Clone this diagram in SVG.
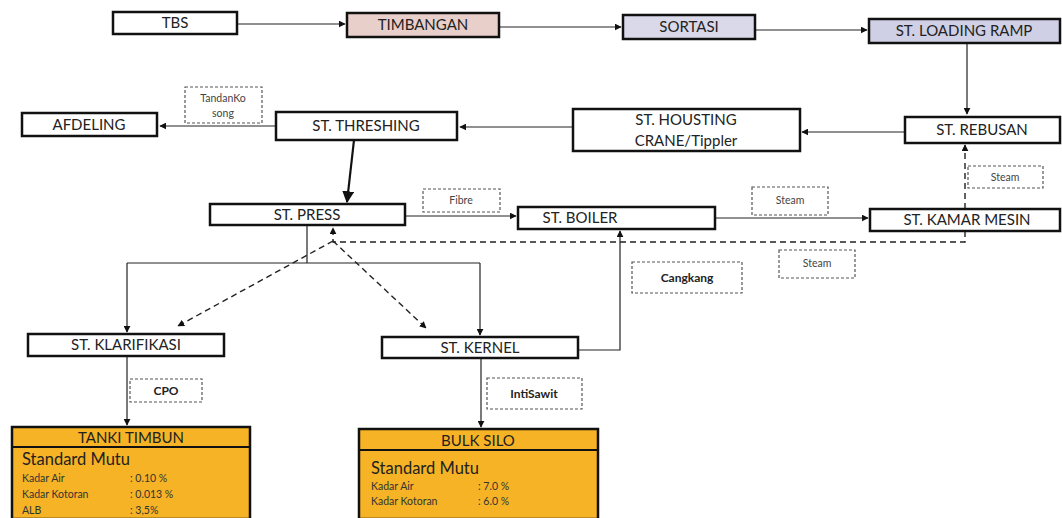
<svg xmlns="http://www.w3.org/2000/svg" width="1062" height="518" viewBox="0 0 1062 518">
<style>
.n{fill:#fff;stroke:#111;stroke-width:2.5}
.t{font-family:Lato,"Open Sans",sans-serif;font-size:15px;fill:#222;text-anchor:middle}
.lb{fill:#fff;stroke:#555;stroke-width:1.2;stroke-dasharray:3,2}
.lt{font-family:Lato,"Open Sans",sans-serif;font-size:10.5px;fill:#444;text-anchor:middle}
.bt{font-family:Lato,"Open Sans",sans-serif;font-size:12px;font-weight:bold;fill:#222;text-anchor:middle}
.c{fill:none;stroke:#222;stroke-width:1.2}
.d{fill:none;stroke:#222;stroke-width:1.4;stroke-dasharray:6,4}
.tank{fill:#f6b325;stroke:#111;stroke-width:2.5}
.sm{font-family:Lato,"Open Sans",sans-serif;font-size:10.5px;fill:#333}
.sh{font-family:Lato,"Open Sans",sans-serif;font-size:16.5px;fill:#222}
</style>
<defs>
<marker id="a" viewBox="0 0 10 10" refX="9" refY="5" markerWidth="7" markerHeight="7" orient="auto" markerUnits="userSpaceOnUse"><path d="M0,0L10,5L0,10z" fill="#111"/></marker>
<marker id="ab" viewBox="0 0 10 10" refX="9" refY="5" markerWidth="12" markerHeight="12" orient="auto" markerUnits="userSpaceOnUse"><path d="M0,0L10,5L0,10z" fill="#111"/></marker>
</defs>
<g id="connectors">
<path class="c" d="M237,24H345" marker-end="url(#a)"/>
<path class="c" d="M499,27H621" marker-end="url(#a)"/>
<path class="c" d="M755,30H867" marker-end="url(#a)"/>
<path class="c" d="M967,43V114" marker-end="url(#a)"/>
<path class="c" d="M905,132H802" marker-end="url(#a)"/>
<path class="c" d="M573,127H460" marker-end="url(#a)"/>
<path class="c" d="M276,126H160" marker-end="url(#a)"/>
<path d="M354,140L347,202" fill="none" stroke="#111" stroke-width="2.2" marker-end="url(#ab)"/>
<path class="c" d="M405,216H516" marker-end="url(#a)"/>
<path class="c" d="M715,218H868" marker-end="url(#a)"/>
<path class="d" d="M965,209V145" marker-end="url(#a)" stroke-width="1.2" stroke-dasharray="3,3"/>
<path class="d" d="M965,231V242H333V228" marker-end="url(#a)"/>
<path class="d" d="M333,241L178,326" marker-end="url(#a)"/>
<path class="d" d="M333,241L426,328" marker-end="url(#a)"/>
<path class="c" d="M307,225V263"/>
<path class="c" d="M127,263H480"/>
<path class="c" d="M127,263V332" marker-end="url(#a)"/>
<path class="c" d="M480,263V335" marker-end="url(#a)"/>
<path class="c" d="M578,350H620V231" marker-end="url(#a)"/>
<path class="c" d="M127,356V425" marker-end="url(#a)"/>
<path class="c" d="M481,359V427" marker-end="url(#a)"/>
</g>
<g id="tbs"><rect class="n" x="113" y="12" width="124" height="22"/><text class="t" x="175" y="28">TBS</text></g>
<g id="timbangan"><rect class="n" x="347" y="13" width="152" height="24" style="fill:#e9cfca"/><text class="t" x="423" y="30">TIMBANGAN</text></g>
<g id="sortasi"><rect class="n" x="623" y="15" width="132" height="24" style="fill:#dad9ea"/><text class="t" x="689" y="32">SORTASI</text></g>
<g id="loading"><rect class="n" x="869" y="19" width="191" height="24" style="fill:#cfcfe5"/><text class="t" x="964" y="36">ST. LOADING RAMP</text></g>
<g id="rebusan"><rect class="n" x="905" y="117" width="155" height="26"/><text class="t" x="982" y="135">ST. REBUSAN</text></g>
<g id="housting"><rect class="n" x="573" y="109" width="227" height="42"/><text class="t" x="686" y="125">ST. HOUSTING</text><text class="t" x="686" y="146">CRANE/Tippler</text></g>
<g id="threshing"><rect class="n" x="276" y="112" width="181" height="28"/><text class="t" x="366" y="131">ST. THRESHING</text></g>
<g id="afdeling"><rect class="n" x="22" y="113" width="135" height="23"/><text class="t" x="89" y="130">AFDELING</text></g>
<g id="tandankosong"><rect class="lb" x="185" y="87" width="77" height="36"/><text class="lt" x="223" y="102">TandanKo</text><text class="lt" x="223" y="117">song</text></g>
<g id="press"><rect class="n" x="210" y="204" width="195" height="21"/><text class="t" x="307" y="220">ST.  PRESS</text></g>
<g id="fibre"><rect class="lb" x="423" y="189" width="77" height="23"/><text class="lt" x="461" y="204">Fibre</text></g>
<g id="boiler"><rect class="n" x="518" y="207" width="197" height="22"/><text class="t" x="580" y="223">ST.  BOILER</text></g>
<g id="steam1"><rect class="lb" x="752" y="187" width="76" height="28"/><text class="lt" x="790" y="204">Steam</text></g>
<g id="kamar"><rect class="n" x="870" y="209" width="190" height="22"/><text class="t" x="967" y="225">ST.  KAMAR MESIN</text></g>
<g id="steam2"><rect class="lb" x="968" y="166" width="75" height="22"/><text class="lt" x="1005" y="181">Steam</text></g>
<g id="steam3"><rect class="lb" x="779" y="250" width="76" height="28"/><text class="lt" x="817" y="267">Steam</text></g>
<g id="cangkang"><rect class="lb" x="632" y="262" width="110" height="31"/><text class="bt" x="687" y="282">Cangkang</text></g>
<g id="klarifikasi"><rect class="n" x="28" y="334" width="196" height="22"/><text class="t" x="126" y="350">ST.  KLARIFIKASI</text></g>
<g id="kernel"><rect class="n" x="382" y="337" width="196" height="21"/><text class="t" x="480" y="353">ST.  KERNEL</text></g>
<g id="cpo"><rect class="lb" x="130" y="379" width="72" height="23"/><text class="bt" x="166" y="395">CPO</text></g>
<g id="intisawit"><rect class="lb" x="487" y="378" width="95" height="31"/><text class="bt" x="534" y="398">IntiSawit</text></g>
<g id="tanki">
<rect class="tank" x="12" y="427" width="238" height="92"/>
<line x1="12" y1="447" x2="250" y2="447" stroke="#111" stroke-width="2"/>
<text class="t" x="131" y="443">TANKI TIMBUN</text>
<text class="sh" x="22" y="465">Standard Mutu</text>
<text class="sm" x="22" y="482">Kadar Air</text><text class="sm" x="130" y="482">: 0.10 %</text>
<text class="sm" x="22" y="498">Kadar Kotoran</text><text class="sm" x="130" y="498">: 0.013 %</text>
<text class="sm" x="22" y="514">ALB</text><text class="sm" x="130" y="514">: 3,5%</text>
</g>
<g id="bulksilo">
<rect class="tank" x="359" y="429" width="239" height="90"/>
<line x1="359" y1="450" x2="598" y2="450" stroke="#111" stroke-width="2"/>
<text class="t" x="478" y="446">BULK SILO</text>
<text class="sh" x="371" y="474">Standard Mutu</text>
<text class="sm" x="371" y="490">Kadar Air</text><text class="sm" x="478" y="490">: 7.0 %</text>
<text class="sm" x="371" y="505">Kadar Kotoran</text><text class="sm" x="478" y="505">: 6.0 %</text>
</g>
</svg>
